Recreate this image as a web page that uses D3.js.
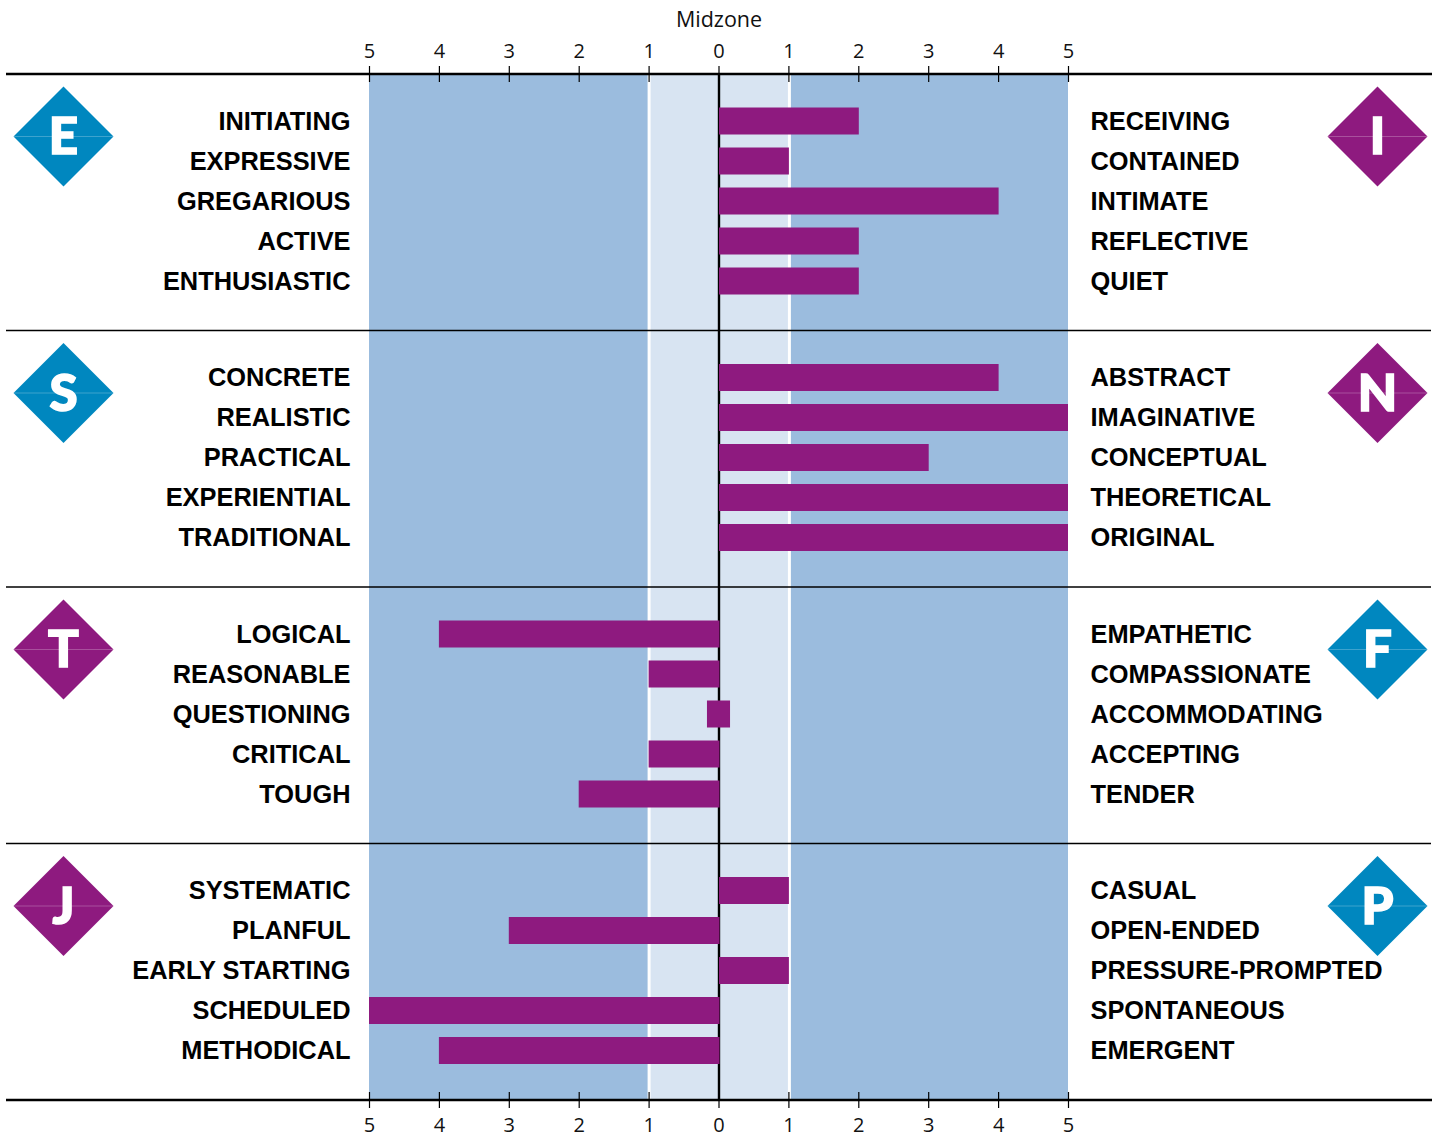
<!DOCTYPE html>
<html><head><meta charset="utf-8">
<script src="https://cdn.jsdelivr.net/npm/d3@7"></script>
<style>html,body{margin:0;padding:0;background:#fff}svg{display:block}</style>
</head><body><div id="c"></div>
<script>
const W=1437,H=1137;
const leftPoles=["E","S","T","J"];
const rightPoles=["I","N","F","P"];
const leftColors=["#0087bf","#0087bf","#8e1a7f","#8e1a7f"];
const rightColors=["#8e1a7f","#8e1a7f","#0087bf","#0087bf"];
const leftLabels=[
 ["INITIATING","EXPRESSIVE","GREGARIOUS","ACTIVE","ENTHUSIASTIC"],
 ["CONCRETE","REALISTIC","PRACTICAL","EXPERIENTIAL","TRADITIONAL"],
 ["LOGICAL","REASONABLE","QUESTIONING","CRITICAL","TOUGH"],
 ["SYSTEMATIC","PLANFUL","EARLY STARTING","SCHEDULED","METHODICAL"]];
const rightLabels=[
 ["RECEIVING","CONTAINED","INTIMATE","REFLECTIVE","QUIET"],
 ["ABSTRACT","IMAGINATIVE","CONCEPTUAL","THEORETICAL","ORIGINAL"],
 ["EMPATHETIC","COMPASSIONATE","ACCOMMODATING","ACCEPTING","TENDER"],
 ["CASUAL","OPEN-ENDED","PRESSURE-PROMPTED","SPONTANEOUS","EMERGENT"]];
// signed scores: negative = left pole, positive = right pole; 0 is a score of zero, drawn as a small block
const scores=[[2,1,4,2,2],[4,5,3,5,5],[-4,-1,0,-1,-2],[1,-3,1,-5,-4]];
const zeroMarkHalfWidth=0.165;
const ticks=[-5,-4,-3,-2,-1,0,1,2,3,4,5];

const x=d3.scaleLinear().domain([-5,5]).range([369,1068]);
const sectionTop=[74,330.5,587,843.5];
const rowOffsets=[47,87,127,167,207];
const rowY=(s,r)=>sectionTop[s]+rowOffsets[r];
const barH=27;
const plotTop=74,plotBottom=1100;

const svg=d3.select("#c").append("svg").attr("width",W).attr("height",H).attr("viewBox",`0 0 ${W} ${H}`);
// background bands
svg.append("rect").attr("x",x(-5)).attr("y",plotTop).attr("width",x(5)-x(-5)).attr("height",plotBottom-plotTop).attr("fill","#9bbcde");
svg.append("rect").attr("x",x(-1)-1).attr("y",plotTop).attr("width",x(1)-x(-1)+3.5).attr("height",plotBottom-plotTop).attr("fill","#ffffff");
svg.append("rect").attr("x",x(-1)+2).attr("y",plotTop).attr("width",x(1)-x(-1)-2.5).attr("height",plotBottom-plotTop).attr("fill","#d8e4f2");
// midline
svg.append("line").attr("x1",x(0)+0.5).attr("x2",x(0)+0.5).attr("y1",plotTop).attr("y2",plotBottom).attr("stroke","#000").attr("stroke-width",2.4);
// separators
[1,2,3].forEach(s=>svg.append("line").attr("x1",6).attr("x2",1431).attr("y1",sectionTop[s]).attr("y2",sectionTop[s]).attr("stroke","#000").attr("stroke-width",1.3));
// bars
scores.forEach((vals,s)=>{
  svg.append("g").selectAll("rect").data(vals).join("rect")
   .attr("x",d=>d===0?x(-zeroMarkHalfWidth):x(Math.min(d,0))+(d>0?0.5:0))
   .attr("width",d=>d===0?x(zeroMarkHalfWidth)-x(-zeroMarkHalfWidth):Math.abs(x(d)-x(0))+(d>0?(d===5?-0.5:0):1))
   .attr("y",(d,i)=>rowY(s,i)-barH/2)
   .attr("height",barH).attr("fill","#8e1a7f");
});
// labels
const lab=(arr,s,xp,anchor)=>svg.append("g").selectAll("text").data(arr).join("text")
   .attr("x",xp).attr("y",(d,i)=>rowY(s,i)+8.5).attr("text-anchor",anchor)
   .attr("font-family","'Liberation Sans',Arial,sans-serif").attr("font-weight",700).attr("font-size",25.4)
   .attr("fill","#000").text(d=>d);
leftLabels.forEach((a,s)=>lab(a,s,350.5,"end"));
rightLabels.forEach((a,s)=>lab(a,s,1090.5,"start"));
// diamonds
const diamond=(cx,cy,col,t)=>{
  const r=50,g=svg.append("g");
  g.append("path").attr("d",`M${cx},${cy-r}L${cx+r},${cy}L${cx},${cy+r}L${cx-r},${cy}Z`).attr("fill",col);
  g.append("line").attr("x1",cx-r).attr("x2",cx+r).attr("y1",cy).attr("y2",cy).attr("stroke","#fff").attr("stroke-opacity",.3).attr("stroke-width",.8);
  g.append("text").attr("x",cx).attr("y",cy+17.5).attr("text-anchor","middle")
   .attr("font-family","Lato,sans-serif").attr("font-weight",900).attr("font-size",51).attr("fill","#fff")
   .attr("stroke","#fff").attr("stroke-width",1.6).attr("stroke-linejoin","miter").text(t);
};
leftPoles.forEach((t,s)=>diamond(63.5,sectionTop[s]+62.5,leftColors[s],t));
rightPoles.forEach((t,s)=>diamond(1377.5,sectionTop[s]+62.5,rightColors[s],t));
// axes
const fmt=d=>Math.abs(d);
const axT=svg.append("g").attr("transform",`translate(0,${plotTop})`).call(d3.axisTop(x).tickValues(ticks).tickFormat(fmt).tickSize(8).tickSizeOuter(0));
const axB=svg.append("g").attr("transform",`translate(0,${plotBottom})`).call(d3.axisBottom(x).tickValues(ticks).tickFormat(fmt).tickSize(8).tickSizeOuter(0));
[axT,axB].forEach(a=>{a.select(".domain").remove();
  a.selectAll("line").attr("stroke","#000").attr("stroke-width",1.2);
  a.selectAll("text").attr("font-family","'Open Sans',sans-serif").attr("font-size",20).attr("fill","#111");
});
axT.selectAll("line").attr("y1",8);
axB.selectAll("line").attr("y1",-8);
axT.selectAll("text").attr("y",-16).attr("dy",0);
axB.selectAll("text").attr("y",31.5).attr("dy",0);
[plotTop,plotBottom].forEach(y=>svg.append("line").attr("x1",6).attr("x2",1432).attr("y1",y).attr("y2",y).attr("stroke","#000").attr("stroke-width",2.6));
svg.append("text").attr("x",719).attr("y",27).attr("text-anchor","middle").attr("font-family","'Open Sans',sans-serif").attr("font-size",21.5).attr("fill","#111").text("Midzone");
</script></body></html>
